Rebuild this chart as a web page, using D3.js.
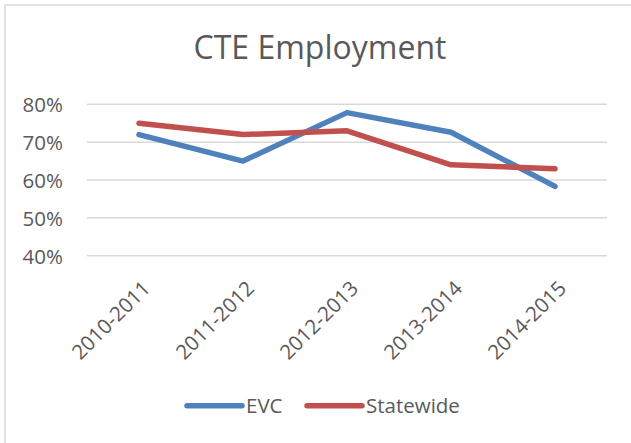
<!DOCTYPE html>
<html>
<head>
<meta charset="utf-8">
<script src="https://cdn.jsdelivr.net/npm/d3@7/dist/d3.min.js"></script>
<style>
  body { margin: 0; background: #fff; }
  text { font-family: "Open Sans", sans-serif; fill: #595959; }
</style>
</head>
<body>
<svg id="chart" width="631" height="443"></svg>
<script>
const years = ["2010-2011", "2011-2012", "2012-2013", "2013-2014", "2014-2015"];
const evc = [0.72, 0.65, 0.778, 0.726, 0.583];
const statewide = [0.75, 0.72, 0.73, 0.64, 0.63];
const yTicks = [0.4, 0.5, 0.6, 0.7, 0.8];

const series = [
    {name: "EVC", values: evc, color: "#4f81bd"},
    {name: "Statewide", values: statewide, color: "#c0504d"}
];

let svg = d3.select("#chart");

// chart border (right and bottom edges fall outside the picture)
svg.append("rect")
    .attr("x", 5).attr("y", 5)
    .attr("width", 660).attr("height", 470)
    .attr("fill", "none")
    .attr("stroke", "#d9d9d9")
    .attr("stroke-width", 1.5);

svg.append("text")
    .attr("x", 320)
    .attr("y", 59)
    .attr("text-anchor", "middle")
    .style("font-size", "32px")
    .text("CTE Employment");

let x = d3.scalePoint().domain(years).range([139, 555]);
let y = d3.scaleLinear().domain([0.4, 0.8]).range([255.7, 104.3]);

// gridlines
svg.append("g").selectAll("line")
    .data(yTicks)
    .enter()
    .append("line")
    .attr("x1", 87).attr("x2", 607)
    .attr("y1", d => y(d)).attr("y2", d => y(d))
    .attr("stroke", "#d9d9d9")
    .attr("stroke-width", 1.5);

let yAxis = d3.axisLeft(y).tickValues(yTicks).tickFormat(d3.format(".0%")).tickSize(0).tickPadding(0);
let gy = svg.append("g").attr("transform", "translate(63,0)").call(yAxis);
gy.select(".domain").remove();
gy.selectAll("text")
    .style("font-size", "20.5px")
    .attr("fill", "#595959")
    .attr("dy", "0.36em");

let xAxis = d3.axisBottom(x).tickSize(0).tickPadding(0);
let gx = svg.append("g").attr("transform", "translate(0,255.7)").call(xAxis);
gx.select(".domain").remove();
gx.selectAll("text")
    .style("font-size", "20.5px")
    .attr("fill", "#595959")
    .attr("text-anchor", "end")
    .attr("dy", null)
    .attr("y", 0)
    .attr("transform", "translate(12,34) rotate(-45)");

let line = d3.line()
    .x((d, i) => x(years[i]))
    .y(d => y(d));

svg.append("g").selectAll("path")
    .data(series)
    .enter()
    .append("path")
    .attr("d", d => line(d.values))
    .attr("fill", "none")
    .attr("stroke", d => d.color)
    .attr("stroke-width", 5.5)
    .attr("stroke-linecap", "round")
    .attr("stroke-linejoin", "round");

// legend
let legend = svg.append("g");
let legendPos = [187, 307];
series.forEach(function(s, i) {
    legend.append("line")
        .attr("x1", legendPos[i]).attr("x2", legendPos[i] + 55)
        .attr("y1", 405.7).attr("y2", 405.7)
        .attr("stroke", s.color)
        .attr("stroke-width", 5.5)
        .attr("stroke-linecap", "round");
    legend.append("text")
        .attr("x", legendPos[i] + 59)
        .attr("y", 413.3)
        .style("font-size", "20.5px")
        .text(s.name);
});
</script>
</body>
</html>
